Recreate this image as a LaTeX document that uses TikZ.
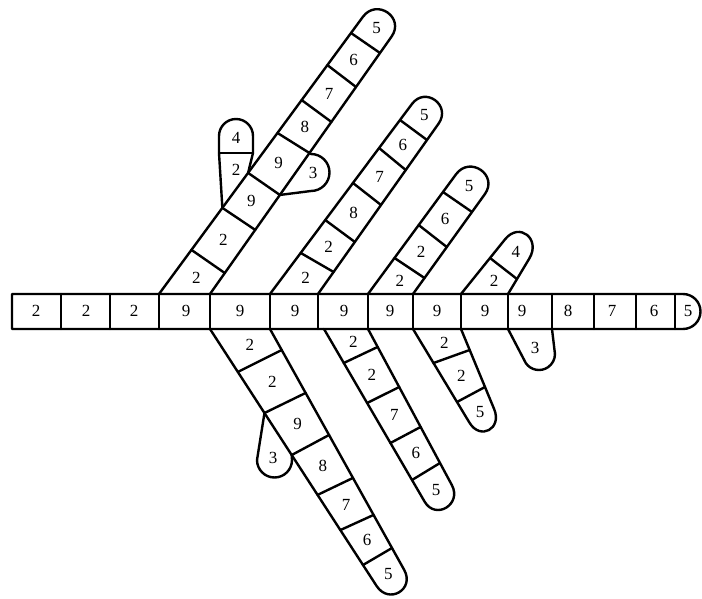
\documentclass[tikz,border=0pt]{standalone}
\usepackage{fontspec}
\setmainfont{Liberation Serif}
\usetikzlibrary{calc}
\tikzset{
  cell/.style={line width=2.4pt, line join=round, line cap=round},
  lab/.style={font=\fontsize{17}{17}\selectfont, inner sep=0pt},
}
% #1 name, #2 divider fractions (left/right), #3 labels of the straight cells,
% #4 label of the rounded end cell, #5 straight length of the end cell, #6 control length of the rounded end
\newcommand{\drawbranch}[6]{%
  \coordinate (#1-p0) at ($(#1-L0)!.5!(#1-R0)$);
  \foreach \fa/\fb [count=\kk] in {#2} {%
    \coordinate (#1-l\kk) at ($(#1-L0)!\fa!(#1-Ln)$);
    \coordinate (#1-r\kk) at ($(#1-R0)!\fb!(#1-Rn)$);
    \coordinate (#1-p\kk) at ($(#1-l\kk)!.5!(#1-r\kk)$);
    \draw[cell] (#1-l\kk) -- (#1-r\kk);
  }%
  \coordinate (#1-pn) at ($(#1-Ln)!.5!(#1-Rn)$);
  \coordinate (#1-Lc) at ($(#1-Ln)!-#5pt!(#1-L0)$);
  \coordinate (#1-Rc) at ($(#1-Rn)!-#5pt!(#1-R0)$);
  \coordinate (#1-Lk) at ($(#1-Lc)!-#6pt!(#1-L0)$);
  \coordinate (#1-Rk) at ($(#1-Rc)!-#6pt!(#1-R0)$);
  \draw[cell] (#1-L0) -- (#1-Lc) .. controls (#1-Lk) and (#1-Rk) .. (#1-Rc) -- (#1-R0);
  \foreach \lab [count=\ii from 0] in {#3} {%
    \pgfmathtruncatemacro\jj{\ii+1}%
    \node[lab] (#1-t\ii) at ($(#1-p\ii)!.5!(#1-p\jj)$) {\lab};
  }%
  \pgfmathsetlengthmacro\capoff{(#5+0.75*#6)/2}%
  \node[lab] (#1-tc) at ($(#1-pn)!-\capoff!(#1-p0)$) {#4};
}
\begin{document}
\begin{tikzpicture}[x=1pt,y=-1pt]
\useasboundingbox (0,0) rectangle (702,599);

% main chain
\draw[cell] (12,294) -- (683,294) arc[start angle=270, end angle=450, radius=17.5] -- (12,329) -- cycle;
\foreach \x in {61,110,159,210,270,318,368,413,461,508,552,594,636,675}
  \draw[cell] (\x,294) -- (\x,329);
\foreach \x/\lab [count=\n] in {36/2,86/2,134/2,186/9,240/9,295/9,344/9,390/9,437/9,485/9,522/9,568/8,612/7,654/6,688/5}
  \node[lab] (m\n) at (\x,311) {\lab};

% upward branches
\coordinate (U1-L0) at (159,294); \coordinate (U1-R0) at (210,294);
\coordinate (U1-Ln) at (351,33);  \coordinate (U1-Rn) at (380,53);
\drawbranch{U1}{.169/.087,.330/.266,.464/.411,.617/.585,.743/.714,.877/.859,1/1}{2,2,9,9,8,7,6}{5}{20}{23.5}

\coordinate (U2-L0) at (270,294); \coordinate (U2-R0) at (318,294);
\coordinate (U2-Ln) at (400,120); \coordinate (U2-Rn) at (427,140);
\drawbranch{U2}{.236/.143,.425/.338,.638/.578,.839/.805,1/1}{2,2,8,7,6}{5}{20}{22.4}

\coordinate (U3-L0) at (368,294); \coordinate (U3-R0) at (413,294);
\coordinate (U3-Ln) at (443,192); \coordinate (U3-Rn) at (472,212);
\drawbranch{U3}{.353/.195,.676/.573,1/1}{2,2,6}{5}{22}{23.5}

\coordinate (U4-L0) at (461,294); \coordinate (U4-R0) at (508,294);
\coordinate (U4-Ln) at (490,258); \coordinate (U4-Rn) at (517,279);
\drawbranch{U4}{1/1}{2}{4}{24}{22.8}

% downward branches
\coordinate (DA-L0) at (210,329); \coordinate (DA-R0) at (270,329);
\coordinate (DA-Ln) at (363,565); \coordinate (DA-Rn) at (392,548);
\drawbranch{DA}{.182/.096,.356/.292,.534/.484,.703/.680,.852/.849,1/1}{2,2,9,8,7,6}{5}{25}{22.4}

\coordinate (DB-L0) at (324,329); \coordinate (DB-R0) at (368,329);
\coordinate (DB-Ln) at (412,480); \coordinate (DB-Rn) at (440,463);
\drawbranch{DB}{.225/.134,.490/.433,.755/.731,1/1}{2,2,7,6}{5}{25}{21.9}

\coordinate (DC-L0) at (413,329); \coordinate (DC-R0) at (461,329);
\coordinate (DC-Ln) at (457,402); \coordinate (DC-Rn) at (485,387);
\drawbranch{DC}{.466/.362,1/1}{2,2}{5}{24}{21.2}

% side pieces
\coordinate (s1a) at (219,153); \coordinate (s1b) at (253,153);
\draw[cell] (U1-l2) -- (s1a) -- (219,136) arc[start angle=180, end angle=360, radius=17] -- (s1b) -- (U1-l3);
\draw[cell] (s1a) -- (s1b);
\node[lab] (s1t1) at (236,170) {2};
\node[lab] (s1t2) at (236,138) {4};

\draw[cell] (U1-r4) -- (311,154) arc[start angle=270, end angle=450, radius=18.5] -- (U1-r3);
\node[lab] (s2t) at (313,173) {3};

\draw[cell] (DA-l2) -- (257,460) arc[start angle=180, end angle=0, radius=17.5] -- (DA-l3);
\node[lab] (s3t) at (273,458) {3};

\draw[cell] (508,329) -- (525.8,363.1) arc[start angle=145.4, end angle=0, radius=16] -- (552,329);
\node[lab] (s4t) at (535,348) {3};
\end{tikzpicture}
\end{document}
